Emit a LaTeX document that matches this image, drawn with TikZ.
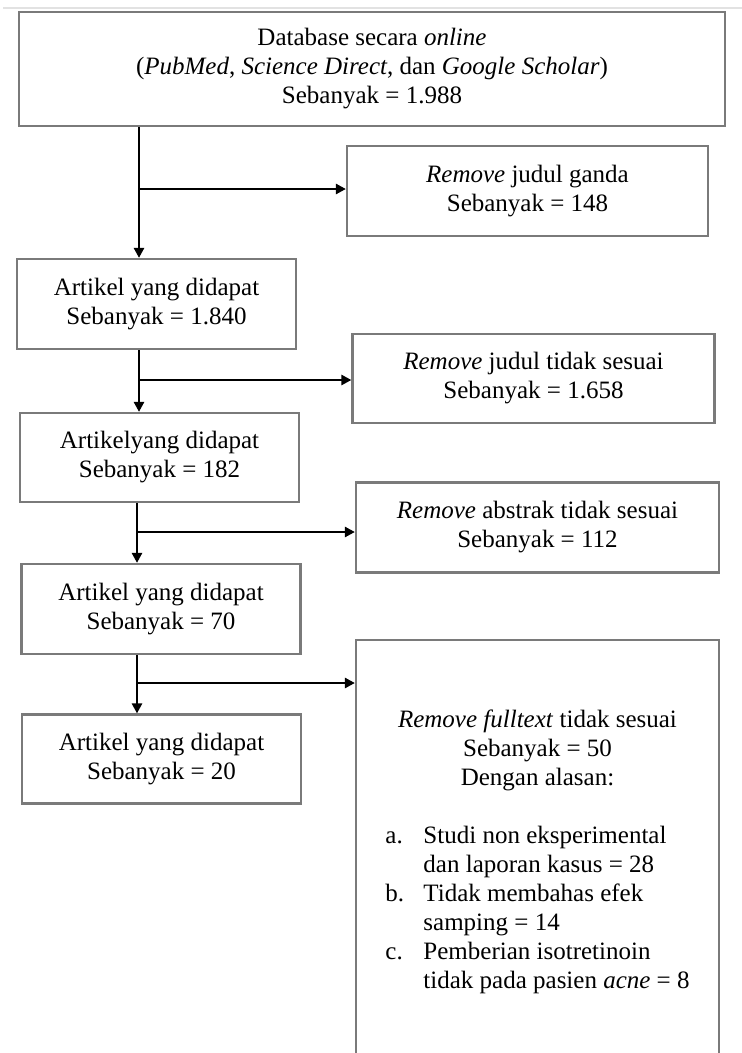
\documentclass[tikz,border=0pt]{standalone}
\usepackage{fontspec}
\setmainfont{Liberation Serif}
\usetikzlibrary{arrows.meta}
\definecolor{boxgray}{HTML}{7A7A7A}
\definecolor{edgegray}{HTML}{E2E2E2}
\begin{document}
\begin{tikzpicture}[x=1pt,y=-1pt,
  every node/.style={font=\fontsize{25}{29}\selectfont, inner sep=0pt},
  flowbox/.style={draw=boxgray, line width=2.2pt, fill=white, align=center, anchor=center},
  arr/.style={line width=2.6pt, -{Triangle[length=10pt,width=10pt]}},
  plainline/.style={line width=2.6pt}]
\clip (0,0) rectangle (742,1053);
\fill[white] (0,0) rectangle (742,1053);
\draw[edgegray, line width=1.5pt] (3,8) -- (742,8);

\node[flowbox, minimum width=706pt, minimum height=114pt] (top) at (372,69) {Database secara \textit{online}\\(\textit{PubMed}, \textit{Science Direct}, dan \textit{Google Scholar})\\Sebanyak = 1.988};
\node[flowbox, minimum width=361pt, minimum height=90pt] (r1) at (527.5,191) {\textit{Remove} judul ganda\\Sebanyak = 148};
\node[flowbox, minimum width=279pt, minimum height=90pt] (a1) at (156.5,304) {Artikel yang didapat\\Sebanyak = 1.840};
\node[flowbox, minimum width=362pt, minimum height=89pt] (r2) at (533.5,378.5) {\textit{Remove} judul tidak sesuai\\Sebanyak = 1.658};
\node[flowbox, minimum width=279pt, minimum height=89pt] (a2) at (159.5,457.5) {Artikelyang didapat\\Sebanyak = 182};
\node[flowbox, minimum width=363pt, minimum height=90pt] (r3) at (537.5,527.5) {\textit{Remove} abstrak tidak sesuai\\Sebanyak = 112};
\node[flowbox, minimum width=279pt, minimum height=90pt] (a3) at (161,609) {Artikel yang didapat\\Sebanyak = 70};
\node[flowbox, minimum width=279pt, minimum height=89pt] (a4) at (161.5,759) {Artikel yang didapat\\Sebanyak = 20};
\node[flowbox, minimum width=363pt, minimum height=424pt] (r4) at (537.5,852) {%
\begin{tabular}{@{}p{38pt}@{}l@{}}
\multicolumn{2}{@{}c@{}}{\textit{Remove fulltext} tidak sesuai}\\
\multicolumn{2}{@{}c@{}}{Sebanyak = 50}\\
\multicolumn{2}{@{}c@{}}{Dengan alasan:}\\
\multicolumn{2}{@{}c@{}}{}\\
a. & Studi non eksperimental\\
 & dan laporan kasus = 28\\
b. & Tidak membahas efek\\
 & samping = 14\\
c. & Pemberian isotretinoin\\
 & tidak pada pasien \textit{acne} = 8
\end{tabular}};

\coordinate (c1) at (139,0);
\coordinate (c2) at (137,0);
\coordinate (b1) at (139,189);
\coordinate (b2) at (139,380);
\coordinate (b3) at (137,532);
\coordinate (b4) at (137,683);

\draw[arr] (top.south -| c1) -- (a1.north -| c1);
\draw[arr] (b1) -- (b1 -| r1.west);
\draw[arr] (a1.south -| c1) -- (a2.north -| c1);
\draw[arr] (b2) -- (b2 -| r2.west);
\draw[arr] (a2.south -| c2) -- (a3.north -| c2);
\draw[arr] (b3) -- (b3 -| r3.west);
\draw[arr] (a3.south -| c2) -- (a4.north -| c2);
\draw[arr] (b4) -- (b4 -| r4.west);
\end{tikzpicture}
\end{document}
